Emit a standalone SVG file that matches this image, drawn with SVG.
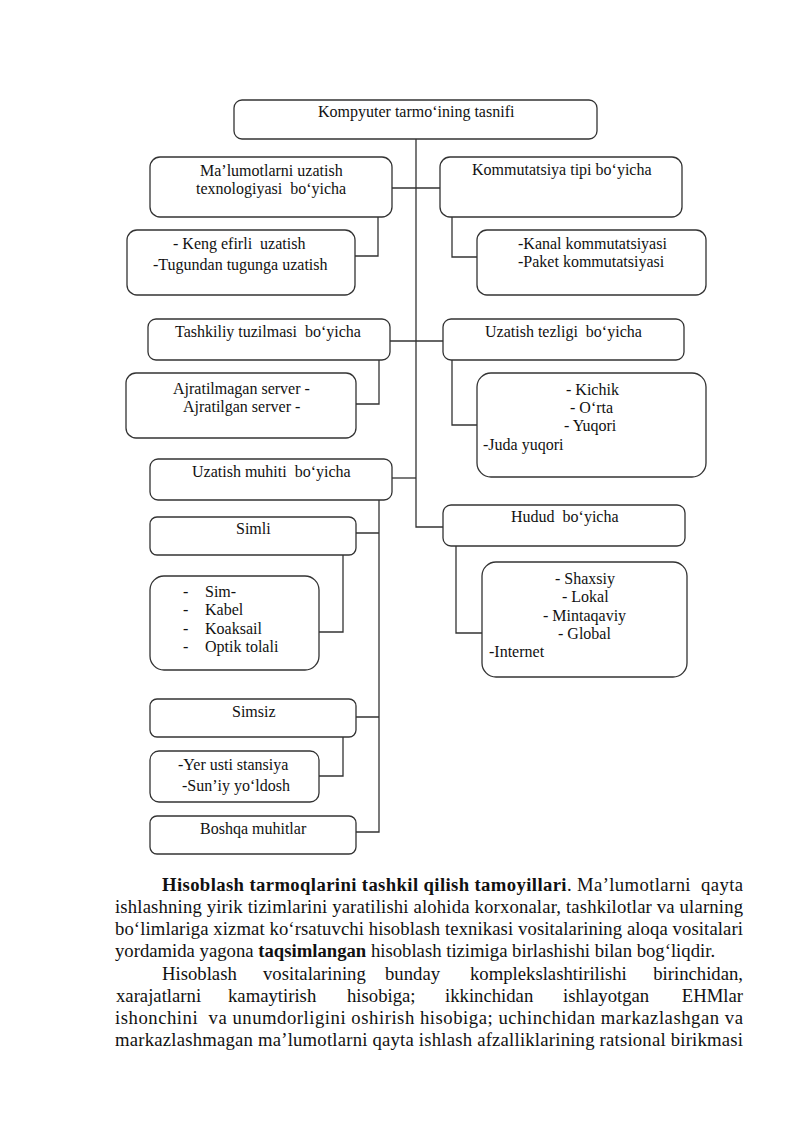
<svg xmlns="http://www.w3.org/2000/svg" width="800" height="1131" viewBox="0 0 800 1131" xml:space="preserve">
<style>
.bx{fill:#fff;stroke:#333;stroke-width:1.3}
.ln{fill:none;stroke:#333;stroke-width:1.3}
.t{font-family:"Liberation Serif","Times New Roman",serif;font-size:16px;fill:#111;white-space:pre}
.p{font-family:"Liberation Serif","Times New Roman",serif;font-size:18.7px;fill:#111;white-space:pre}
.b{font-weight:bold}
</style>
<rect width="800" height="1131" fill="#fff"/>
<g id="connectors">
<path class="ln" d="M416 139V527H443"/>
<path class="ln" d="M392 188H440"/>
<path class="ln" d="M390 341H443"/>
<path class="ln" d="M392 478H416"/>
<path class="ln" d="M378 217V256H355"/>
<path class="ln" d="M452 217V257H477"/>
<path class="ln" d="M379 360V404H356"/>
<path class="ln" d="M452 360V425H477"/>
<path class="ln" d="M456 546V633H482"/>
<path class="ln" d="M379 500V832H356M356 533H379M356 717H379"/>
<path class="ln" d="M343 555V632H319"/>
<path class="ln" d="M343 737V776H319"/>
</g>
<g id="root"><rect class="bx" x="234" y="100" width="363" height="39" rx="8"/><text class="t" x="318" y="117">Kompyuter tarmo‘ining tasnifi</text></g>
<g id="malumot"><rect class="bx" x="150" y="157" width="242" height="60" rx="10"/><text class="t" x="200" y="176">Ma’lumotlarni uzatish</text><text class="t" x="196" y="194">texnologiyasi  bo‘yicha</text></g>
<g id="malumot-list"><rect class="bx" x="127" y="230" width="228" height="65" rx="10"/><text class="t" x="173" y="249">- Keng efirli  uzatish</text><text class="t" x="153" y="270">-Tugundan tugunga uzatish</text></g>
<g id="kommutatsiya"><rect class="bx" x="440" y="157" width="242" height="60" rx="10"/><text class="t" x="472" y="175">Kommutatsiya tipi bo‘yicha</text></g>
<g id="kommutatsiya-list"><rect class="bx" x="477" y="230" width="229" height="65" rx="10"/><text class="t" x="518" y="249">-Kanal kommutatsiyasi</text><text class="t" x="518" y="267">-Paket kommutatsiyasi</text></g>
<g id="tashkiliy"><rect class="bx" x="148" y="319" width="242" height="41" rx="8"/><text class="t" x="175" y="337">Tashkiliy tuzilmasi  bo‘yicha</text></g>
<g id="tashkiliy-list"><rect class="bx" x="126" y="373" width="230" height="65" rx="10"/><text class="t" x="173" y="394">Ajratilmagan server -</text><text class="t" x="183" y="412">Ajratilgan server -</text></g>
<g id="tezligi"><rect class="bx" x="443" y="319" width="241" height="41" rx="8"/><text class="t" x="485" y="337">Uzatish tezligi  bo‘yicha</text></g>
<g id="tezligi-list"><rect class="bx" x="477" y="373" width="229" height="104" rx="14"/><text class="t" x="566" y="395">- Kichik</text><text class="t" x="570" y="413">- O‘rta</text><text class="t" x="564" y="431">- Yuqori</text><text class="t" x="483" y="450">-Juda yuqori</text></g>
<g id="muhiti"><rect class="bx" x="150" y="459" width="242" height="41" rx="8"/><text class="t" x="192" y="477">Uzatish muhiti  bo‘yicha</text></g>
<g id="hudud"><rect class="bx" x="443" y="505" width="242" height="41" rx="8"/><text class="t" x="511" y="522">Hudud  bo‘yicha</text></g>
<g id="hudud-list"><rect class="bx" x="482" y="562" width="205" height="115" rx="14"/><text class="t" x="555" y="584">- Shaxsiy</text><text class="t" x="562" y="602">- Lokal</text><text class="t" x="543" y="621">- Mintaqaviy</text><text class="t" x="558" y="639">- Global</text><text class="t" x="489" y="657">-Internet</text></g>
<g id="simli"><rect class="bx" x="150" y="517" width="206" height="38" rx="7"/><text class="t" x="236" y="534">Simli</text></g>
<g id="simli-list"><rect class="bx" x="150" y="576" width="169" height="94" rx="14"/>
<text class="t" x="183" y="597">-</text><text class="t" x="205" y="597">Sim-</text>
<text class="t" x="183" y="615">-</text><text class="t" x="205" y="615">Kabel</text>
<text class="t" x="183" y="634">-</text><text class="t" x="205" y="634">Koaksail</text>
<text class="t" x="183" y="652">-</text><text class="t" x="205" y="652">Optik tolali</text></g>
<g id="simsiz"><rect class="bx" x="150" y="699" width="206" height="38" rx="7"/><text class="t" x="232" y="717">Simsiz</text></g>
<g id="simsiz-list"><rect class="bx" x="150" y="751" width="169" height="51" rx="9"/><text class="t" x="178" y="770">-Yer usti stansiya</text><text class="t" x="182" y="791">-Sun’iy yo‘ldosh</text></g>
<g id="boshqa"><rect class="bx" x="150" y="816" width="206" height="38" rx="7"/><text class="t" x="200" y="834">Boshqa muhitlar</text></g>
<g id="paragraph">
<text class="p" x="162" y="891" textLength="581" lengthAdjust="spacing"><tspan class="b">Hisoblash tarmoqlarini tashkil qilish tamoyillari</tspan>. Ma’lumotlarni  qayta</text>
<text class="p" x="115" y="913" textLength="628" lengthAdjust="spacing">ishlashning yirik tizimlarini yaratilishi alohida korxonalar, tashkilotlar va ularning</text>
<text class="p" x="115" y="935" textLength="628" lengthAdjust="spacing">bo‘limlariga xizmat ko‘rsatuvchi hisoblash texnikasi vositalarining aloqa vositalari</text>
<text class="p" x="115" y="957">yordamida yagona <tspan class="b">taqsimlangan</tspan> hisoblash tizimiga birlashishi bilan bog‘liqdir.</text>
<text class="p" y="980"><tspan x="162">Hisoblash</tspan><tspan x="263">vositalarining</tspan><tspan x="385">bunday</tspan><tspan x="470">komplekslashtirilishi</tspan></text>
<text class="p" x="743" y="980" text-anchor="end">birinchidan,</text>
<text class="p" y="1002"><tspan x="116">xarajatlarni</tspan><tspan x="228">kamaytirish</tspan><tspan x="347">hisobiga;</tspan><tspan x="445">ikkinchidan</tspan><tspan x="563">ishlayotgan</tspan></text>
<text class="p" x="743" y="1002" text-anchor="end">EHMlar</text>
<text class="p" x="115" y="1024" textLength="628" lengthAdjust="spacing">ishonchini  va unumdorligini oshirish hisobiga; uchinchidan markazlashgan va</text>
<text class="p" x="115" y="1046" textLength="628" lengthAdjust="spacing">markazlashmagan ma’lumotlarni qayta ishlash afzalliklarining ratsional birikmasi</text>
</g>
</svg>
